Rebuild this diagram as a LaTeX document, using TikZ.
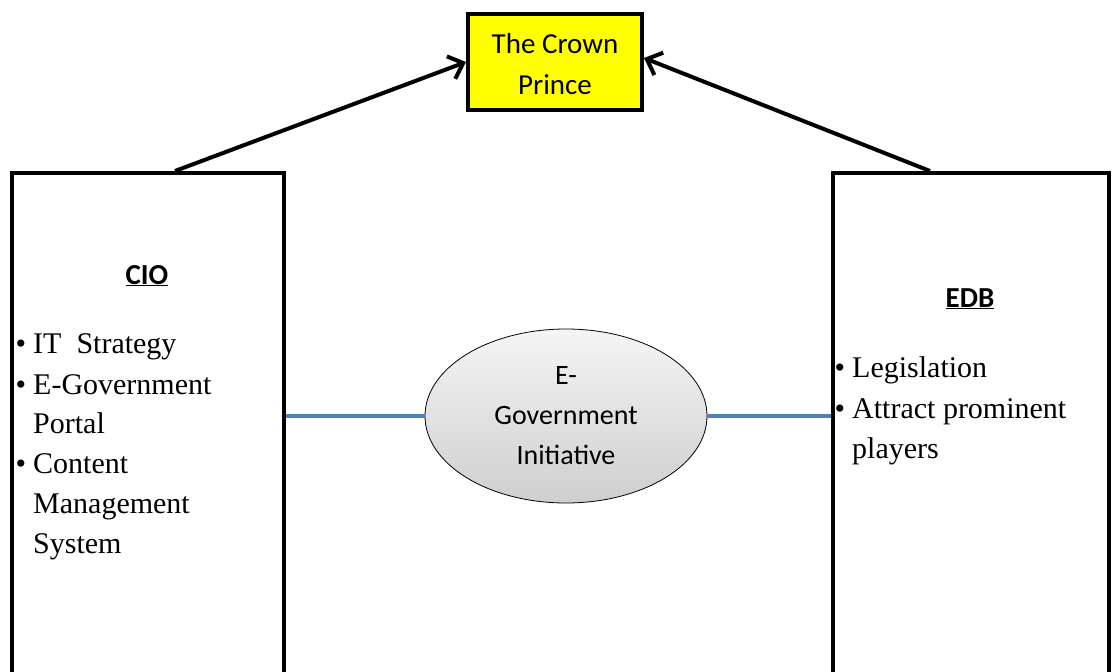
\documentclass[tikz,border=0pt]{standalone}
\usepackage{fontspec}
\setmainfont{Liberation Serif}
\newfontfamily\carlito{Carlito}
\usetikzlibrary{arrows.meta,shapes.geometric,calc}
\definecolor{linkblue}{HTML}{4F81BD}
\definecolor{crownyellow}{HTML}{FFFF00}
\begin{document}
\begin{tikzpicture}[x=1pt,y=-1pt,
  panel/.style={draw=black,line width=4pt,fill=white,rectangle,inner sep=0pt,
    minimum width=272pt,minimum height=540pt},
  headbox/.style={draw=black,line width=4pt,fill=crownyellow,rectangle,inner sep=0pt,
    minimum width=174pt,minimum height=96pt,align=center,
    font=\carlito\fontsize{29}{41}\selectfont},
  hub/.style={ellipse,draw=black,line width=0.8pt,top color=gray!8,bottom color=gray!38,
    minimum width=282pt,minimum height=174pt,inner sep=0pt,align=center,
    font=\carlito\fontsize{28}{40}\selectfont},
  title/.style={font=\carlito\bfseries\fontsize{29}{36}\selectfont,inner sep=0pt,anchor=base},
  item/.style={font=\fontsize{30}{40}\selectfont,inner sep=0pt,anchor=base west},
  report/.style={line width=4pt,-{Straight Barb[length=13pt,width=24pt]}},
  link/.style={linkblue,line width=3.2pt}]
\useasboundingbox (0,0) rectangle (1112,672);
\clip (0,0) rectangle (1112,672);

% the two agencies (boxes run past the lower edge)
\node[panel] (cio) at (148,443) {};
\node[panel,minimum width=276pt] (edb) at (971,443) {};

% head of the hierarchy
\node[headbox] (crown) at (555,62) {\rule{0pt}{24pt}The Crown\\Prince};

% shared initiative
\node[hub] (egov) at (566,416) {E-\\Government\\Initiative};

% CIO contents
\newcommand{\bul}{\llap{\textbullet\hspace{7pt}}}
\node[title] (ciot) at (147,284) {\underline{CIO}};
\node[item] (c1) at (33,353) {\bul IT~ Strategy};
\node[item] (c2) at (33,394) {\bul E-Government};
\node[item] (c3) at (33,433) {Portal};
\node[item] (c4) at (33,473) {\bul Content};
\node[item] (c5) at (33,513) {Management};
\node[item] (c6) at (33,553) {System};

% EDB contents
\node[title] (edbt) at (970,307) {\underline{EDB}};
\node[item] (e1) at (852,377) {\bul Legislation};
\node[item] (e2) at (852,418) {\bul Attract prominent};
\node[item] (e3) at (852,458) {players};

% reporting lines
\draw[report] ([xshift=27pt]cio.north) -- (crown.west);
\draw[report] ([xshift=-41pt]edb.north) -- ([yshift=4pt]crown.east);

% links to the initiative
\draw[link] (egov.west) -- (egov.west -| cio.east);
\draw[link] (egov.east) -- (egov.east -| edb.west);
\end{tikzpicture}
\end{document}
